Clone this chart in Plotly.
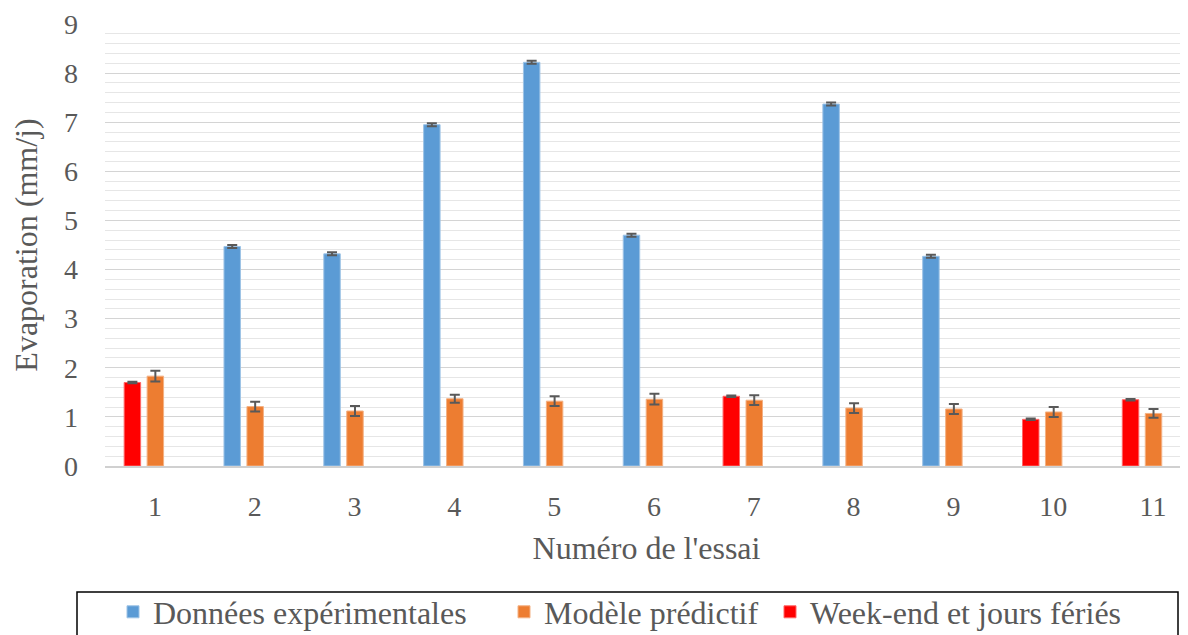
import plotly.graph_objects as go

categories = ["1", "2", "3", "4", "5", "6", "7", "8", "9", "10", "11"]
experimental = [None, 4.47, 4.32, 6.95, 8.22, 4.70, None, 7.37, 4.27, None, None]
experimental_err = [0, 0.03, 0.03, 0.03, 0.03, 0.03, 0, 0.03, 0.03, 0, 0]
weekend = [1.70, None, None, None, None, None, 1.42, None, None, 0.95, 1.35]
weekend_err = [0.015, 0, 0, 0, 0, 0, 0.015, 0, 0, 0.015, 0.015]
predicted = [1.83, 1.21, 1.12, 1.37, 1.32, 1.36, 1.34, 1.18, 1.16, 1.10, 1.07]
predicted_err = [0.11, 0.1, 0.1, 0.08, 0.1, 0.11, 0.1, 0.1, 0.1, 0.1, 0.09]

BLUE = "#5B9BD5"
ORANGE = "#ED7D31"
RED = "#FF0000"
TXT = "#595959"
FONT = "Liberation Serif, Times New Roman, serif"

err_style = dict(type="data", visible=True, color="#595959", thickness=2, width=5)

fig = go.Figure()
fig.add_trace(go.Bar(
    x=categories, y=experimental, name="Données expérimentales",
    marker=dict(color=BLUE, line=dict(color="#9DC3E6", width=1)),
    width=0.165, offset=-0.308, legend="legend",
    error_y=dict(array=experimental_err, **err_style),
))
fig.add_trace(go.Bar(
    x=categories, y=predicted, name="Modèle prédictif",
    marker=dict(color=ORANGE, line=dict(color="#F4B183", width=1)),
    width=0.165, offset=-0.078, legend="legend2",
    error_y=dict(array=predicted_err, **err_style),
))
fig.add_trace(go.Bar(
    x=categories, y=weekend, name="Week-end et jours fériés",
    marker=dict(color=RED, line=dict(color="#FF6666", width=1)),
    width=0.165, offset=-0.308, legend="legend3",
    error_y=dict(array=weekend_err, **err_style),
))

# page has an 8px body margin: figure coordinates = page coordinates - 8
OFF = 8
W, H = 1188 - OFF, 635 - OFF
L, T = 105 - OFF, 24 - OFF
plot_bottom = 466 - OFF
B = H - plot_bottom
plot_w = W - L
plot_h = plot_bottom - T

def px_x(p):
    return (p - OFF - L) / plot_w

def px_y(p):
    return (plot_bottom - (p - OFF)) / plot_h

fig.add_shape(type="rect", xref="paper", yref="paper",
              x0=px_x(77), x1=px_x(1178), y0=px_y(650), y1=px_y(592),
              line=dict(color="black", width=1.5), fillcolor="rgba(0,0,0,0)")

LEG_FONT = dict(family=FONT, size=32, color=TXT)

def legend_at(sym_left):
    return dict(orientation="h", x=px_x(sym_left - 15), xanchor="left",
                y=px_y(612), yanchor="middle", font=LEG_FONT,
                bgcolor="rgba(0,0,0,0)", borderwidth=0)

fig.update_layout(
    width=W, height=H,
    margin=dict(l=L, r=0, t=T, b=B, pad=0, autoexpand=False),
    paper_bgcolor="white", plot_bgcolor="white",
    font=dict(family=FONT, size=28, color=TXT),
    barmode="group",
    showlegend=True,
    legend=legend_at(128),
    legend2=legend_at(519),
    legend3=legend_at(785),
    xaxis=dict(
        type="category", range=[-0.5, 10.35], automargin=False,
        showline=True, linecolor="#D0D0D0", linewidth=1.5,
        showgrid=False, ticks="", ticklabelstandoff=15,
        tickfont=dict(family=FONT, size=28, color=TXT),
        title=dict(text="Numéro de l'essai", standoff=15,
                   font=dict(family=FONT, size=32, color=TXT)),
    ),
    yaxis=dict(
        range=[0, 9], dtick=1, tick0=0, automargin=False,
        showline=False, zeroline=False,
        showgrid=True, gridcolor="#D4D4D4", gridwidth=1,
        minor=dict(dtick=0.2, showgrid=True, gridcolor="#E6E6E6", gridwidth=1),
        ticks="", ticklabelstandoff=26,
        tickfont=dict(family=FONT, size=28, color=TXT),
        title=dict(text="Evaporation (mm/j)", standoff=42,
                   font=dict(family=FONT, size=32, color=TXT)),
    ),
)

fig.write_html("out.html")
